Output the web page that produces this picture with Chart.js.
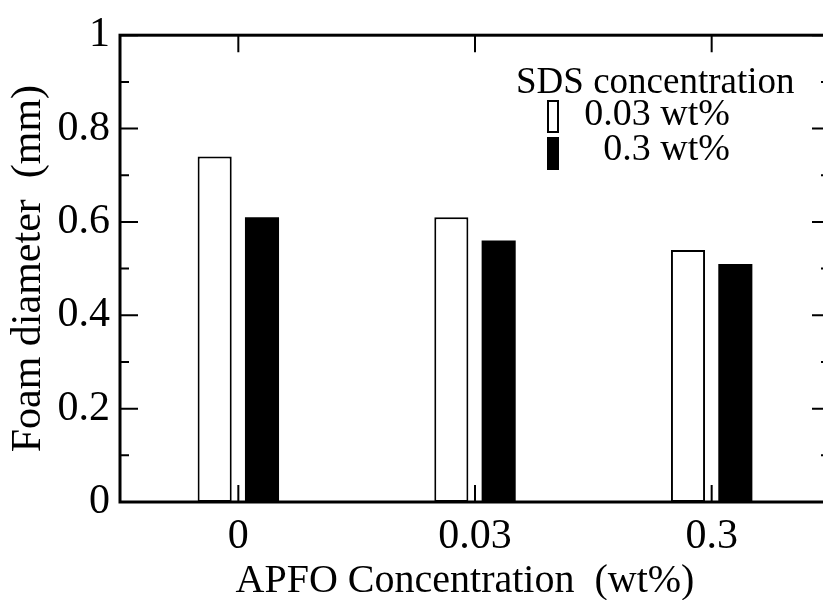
<!DOCTYPE html>
<html>
<head>
<meta charset="utf-8">
<script src="https://cdn.jsdelivr.net/npm/chart.js@4/dist/chart.umd.min.js"></script>
<style>
  html, body { margin: 0; padding: 0; background: #fff; overflow: hidden; }
  #wrap { width: 823px; height: 600px; overflow: hidden; }
  .fontWarm { position: absolute; left: -9999px; font-family: "Liberation Serif"; font-size: 40px; }
</style>
</head>
<body>
<span class="fontWarm">SDS concentration 0.03 wt%</span>
<div id="wrap"><canvas id="foamChart" width="840" height="600"></canvas></div>
<script>
// dados
const categories = ['0', '0.03', '0.3'];
const sds003 = [0.74, 0.61, 0.54];   // SDS 0.03 wt% (barras brancas)
const sds03 = [0.61, 0.56, 0.51];    // SDS 0.3 wt% (barras pretas)
const yTicks = [0, 0.2, 0.4, 0.6, 0.8, 1];
const yMinorTicks = [0.1, 0.3, 0.5, 0.7, 0.9];
const seriesLabels = ['0.03 wt%', '0.3 wt%'];
const legendTitle = 'SDS concentration';
const xTitle = 'APFO Concentration  (wt%)';
const yTitle = 'Foam diameter  (mm)';

const serif = '"Liberation Serif"';

// Moldura com marcas para dentro (estilo de gráfico científico)
const framePlugin = {
    id: 'frame',
    afterDatasetsDraw(chart) {
        const { ctx, chartArea: a, scales } = chart;
        const x = scales.x, y = scales.y;
        ctx.save();
        ctx.strokeStyle = '#000';
        ctx.lineCap = 'butt';

        // marcas do eixo y (esquerda e direita)
        ctx.lineWidth = 2;
        ctx.beginPath();
        yTicks.forEach(v => {
            const py = y.getPixelForValue(v);
            ctx.moveTo(a.left, py); ctx.lineTo(a.left + 18, py);
            ctx.moveTo(a.right, py); ctx.lineTo(a.right - 18, py);
        });
        yMinorTicks.forEach(v => {
            const py = y.getPixelForValue(v);
            ctx.moveTo(a.left, py); ctx.lineTo(a.left + 9, py);
            ctx.moveTo(a.right, py); ctx.lineTo(a.right - 9, py);
        });
        // marcas do eixo x (embaixo e em cima)
        categories.forEach((c, i) => {
            const px = x.getPixelForValue(i);
            ctx.moveTo(px, a.bottom); ctx.lineTo(px, a.bottom - 17);
            ctx.moveTo(px, a.top); ctx.lineTo(px, a.top + 17);
        });
        ctx.stroke();

        // moldura
        ctx.lineWidth = 3;
        ctx.strokeRect(a.left, a.top, a.right - a.left, a.bottom - a.top);
        ctx.restore();
    }
};

// Legenda e título do eixo x desenhados à mão
const legendPlugin = {
    id: 'sdsLegend',
    afterDraw(chart) {
        const { ctx } = chart;
        ctx.save();
        ctx.fillStyle = '#000';
        ctx.textBaseline = 'alphabetic';
        ctx.font = '37px ' + serif;
        ctx.textAlign = 'left';
        ctx.fillText(legendTitle, 516, 93);

        ctx.font = '38px ' + serif;
        ctx.textAlign = 'right';
        const rows = [{ top: 101, base: 125 }, { top: 138, base: 160 }];
        chart.data.datasets.forEach((ds, i) => {
            const r = rows[i];
            ctx.fillStyle = ds.backgroundColor;
            ctx.fillRect(548, r.top, 10, 31);
            ctx.lineWidth = 2;
            ctx.strokeStyle = '#000';
            ctx.strokeRect(548, r.top, 10, 31);
            ctx.fillStyle = '#000';
            ctx.fillText(seriesLabels[i], 730, r.base);
        });

        // título do eixo x (um pouco à esquerda do centro da área, como no original)
        ctx.font = '40px ' + serif;
        ctx.textAlign = 'center';
        ctx.fillText(xTitle, 465, 592);
        ctx.restore();
    }
};

function drawChart() {
    const ctx = document.getElementById('foamChart');

    new Chart(ctx, {
        type: 'bar',
        data: {
            labels: categories,
            datasets: [
                {
                    label: seriesLabels[0],
                    data: sds003,
                    backgroundColor: '#ffffff',
                    borderColor: '#000000',
                    borderWidth: 2,
                    borderSkipped: false,
                    categoryPercentage: 0.4,
                    barPercentage: 0.72
                },
                {
                    label: seriesLabels[1],
                    data: sds03,
                    backgroundColor: '#000000',
                    borderColor: '#000000',
                    borderWidth: 0,
                    categoryPercentage: 0.4,
                    barPercentage: 0.72
                }
            ]
        },
        options: {
            responsive: false,
            animation: false,
            devicePixelRatio: 1,
            layout: { padding: { top: 29, right: 10, left: 0, bottom: 0 } },
            plugins: {
                legend: { display: false },
                tooltip: { enabled: false }
            },
            scales: {
                x: {
                    offset: true,
                    grid: { display: false, drawTicks: false },
                    border: { display: false },
                    ticks: {
                        color: '#000',
                        font: { family: serif, size: 42 },
                        padding: 10,
                        maxRotation: 0
                    },
                    title: { display: false },
                    afterFit: (scale) => { scale.height = 98; }
                },
                y: {
                    min: 0,
                    max: 1,
                    grid: { display: false, drawTicks: false },
                    border: { display: false },
                    ticks: {
                        stepSize: 0.2,
                        color: '#000',
                        font: { family: serif, size: 42 },
                        padding: 10,
                        callback: (v) => String(Number(v.toFixed(1)))
                    },
                    title: {
                        display: true,
                        text: yTitle,
                        color: '#000',
                        font: { family: serif, size: 42, lineHeight: 1 },
                        padding: { top: 8, bottom: 0 }
                    },
                    afterFit: (scale) => { scale.width = 120; }
                }
            }
        },
        plugins: [framePlugin, legendPlugin]
    });
}

// Espera a fonte serifada carregar antes de desenhar no canvas
document.addEventListener('DOMContentLoaded', () => {
    Promise.all([
        document.fonts.load('40px "Liberation Serif"'),
        document.fonts.load('37px "Liberation Serif"')
    ]).then(drawChart, drawChart);
});
</script>
</body>
</html>
